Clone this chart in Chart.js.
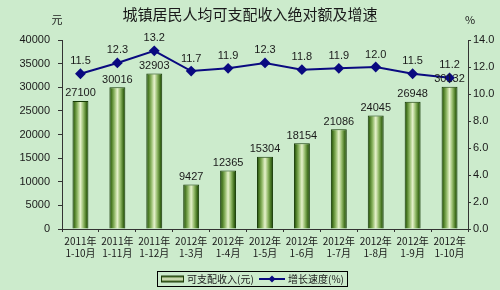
<!DOCTYPE html>
<html>
<head>
<meta charset="utf-8">
<script src="https://cdn.jsdelivr.net/npm/chart.js@4"></script>
<style>
  html, body { margin: 0; padding: 0; background: #ccebcc; }
  #wrap { width: 500px; height: 290px; }
</style>
</head>
<body>
<div id="wrap"><canvas id="incomeChart" width="500" height="290"></canvas></div>
<script>
// data
const categories = [
    ['2011年', '1-10月'], ['2011年', '1-11月'], ['2011年', '1-12月'],
    ['2012年', '1-3月'], ['2012年', '1-4月'], ['2012年', '1-5月'],
    ['2012年', '1-6月'], ['2012年', '1-7月'], ['2012年', '1-8月'],
    ['2012年', '1-9月'], ['2012年', '1-10月']
];
const income = [27100, 30016, 32903, 9427, 12365, 15304, 18154, 21086, 24045, 26948, 30132];
const growth = [11.5, 12.3, 13.2, 11.7, 11.9, 12.3, 11.8, 11.9, 12.0, 11.5, 11.2];
const incomeAxis = { min: 0, max: 40000, step: 5000 };
const growthAxis = { min: 0, max: 14, step: 2 };
const seriesNames = ['可支配收入(元)', '增长速度(%)'];

const BG = '#ccebcc';
const LINE = '#0a0a80';
const FONT = '"Noto Sans CJK SC", "DejaVu Sans", sans-serif';
const LABEL_FONT = 'Arial, "Liberation Sans", sans-serif';

function barGradient(ctx, x0, x1) {
    const g = ctx.createLinearGradient(x0, 0, x1, 0);
    g.addColorStop(0, '#143805');
    g.addColorStop(0.12, '#45751f');
    g.addColorStop(0.3, '#8cb562');
    g.addColorStop(0.5, '#e6f2cc');
    g.addColorStop(0.7, '#8cb562');
    g.addColorStop(0.88, '#3d6c1a');
    g.addColorStop(1, '#143805');
    return g;
}

// value labels, axis units, legend box
const decorPlugin = {
    id: 'decor',
    beforeDraw(chart) {
        const c = chart.ctx;
        c.save();
        c.fillStyle = BG;
        c.fillRect(0, 0, chart.width, chart.height);
        c.restore();
    },
    afterDatasetsDraw(chart) {
        const c = chart.ctx;
        c.save();
        c.font = '11px ' + LABEL_FONT;
        c.fillStyle = '#1a1a1a';
        c.textAlign = 'center';
        c.textBaseline = 'bottom';
        chart.getDatasetMeta(1).data.forEach((el, i) => {
            c.fillText(String(income[i]), el.x, el.y - 2);
        });
        chart.getDatasetMeta(0).data.forEach((el, i) => {
            c.fillText(growth[i].toFixed(1), el.x, el.y - 7);
        });
        c.restore();
    },
    afterDraw(chart) {
        const c = chart.ctx;
        c.save();
        c.font = '11px ' + FONT;
        c.fillStyle = '#1a1a1a';
        c.textAlign = 'center';
        c.textBaseline = 'middle';
        c.fillText('元', chart.scales.y.right - 5, 20);
        c.fillText('%', chart.scales.y1.left + 2, 20);

        // legend
        const lx = 157, ly = 271, lw = 190, lh = 15;
        c.strokeStyle = '#000';
        c.lineWidth = 1;
        c.strokeRect(lx + 0.5, ly + 0.5, lw, lh);
        const sy = ly + lh / 2 + 0.5;
        const vg = c.createLinearGradient(0, sy - 3, 0, sy + 3);
        vg.addColorStop(0, '#2f5a12');
        vg.addColorStop(0.5, '#e6f2cc');
        vg.addColorStop(1, '#2f5a12');
        c.fillStyle = vg;
        c.fillRect(lx + 4, sy - 3, 22, 6);
        c.strokeStyle = '#1f3d0a';
        c.strokeRect(lx + 4.5, sy - 3, 22, 6);
        c.fillStyle = '#1a1a1a';
        c.textAlign = 'left';
        c.font = '10px ' + FONT;
        c.fillText(seriesNames[0], lx + 30, sy);
        c.strokeStyle = LINE;
        c.lineWidth = 2;
        c.beginPath();
        c.moveTo(lx + 102, sy);
        c.lineTo(lx + 128, sy);
        c.stroke();
        c.fillStyle = LINE;
        c.beginPath();
        c.moveTo(lx + 115, sy - 3.5);
        c.lineTo(lx + 118.5, sy);
        c.lineTo(lx + 115, sy + 3.5);
        c.lineTo(lx + 111.5, sy);
        c.closePath();
        c.fill();
        c.fillStyle = '#1a1a1a';
        c.fillText(seriesNames[1], lx + 131, sy);
        c.restore();
    }
};

const ctx = document.getElementById('incomeChart').getContext('2d');
const incomeChart = new Chart(ctx, {
    type: 'bar',
    data: {
        labels: categories,
        datasets: [{
            type: 'line',
            label: seriesNames[1],
            data: growth,
            yAxisID: 'y1',
            order: 0,
            borderColor: LINE,
            backgroundColor: LINE,
            borderWidth: 2,
            pointStyle: 'rectRot',
            pointRadius: 4,
            pointBackgroundColor: LINE,
            pointBorderColor: LINE,
            tension: 0
        }, {
            type: 'bar',
            label: seriesNames[0],
            data: income,
            yAxisID: 'y',
            order: 1,
            categoryPercentage: 0.9,
            barPercentage: 0.48,
            borderColor: '#163a06',
            borderWidth: 1,
            borderSkipped: 'bottom',
            backgroundColor: (c) => {
                const xs = c.chart.scales.x;
                if (!xs || c.dataIndex === undefined) return '#7aa84c';
                const cx = xs.getPixelForValue(c.dataIndex);
                const w = xs.width / categories.length * 0.9 * 0.48;
                if (!isFinite(cx) || !isFinite(w) || w <= 0) return '#7aa84c';
                return barGradient(c.chart.ctx, cx - w / 2, cx + w / 2);
            }
        }]
    },
    options: {
        responsive: false,
        animation: false,
        devicePixelRatio: 1,
        layout: { padding: { left: 0, right: 0, top: 0, bottom: 25 } },
        scales: {
            x: {
                afterFit: (s) => { s.height = 36; },
                grid: { display: true, drawOnChartArea: false, offset: true, color: '#333', tickLength: 3 },
                border: { color: '#333', width: 1 },
                ticks: {
                    color: '#1a1a1a',
                    font: { family: FONT, size: 10 },
                    padding: 3,
                    maxRotation: 0,
                    autoSkip: false
                }
            },
            y: {
                position: 'left',
                min: incomeAxis.min,
                max: incomeAxis.max,
                afterFit: (s) => { s.width = 62; },
                grid: { display: true, drawOnChartArea: false, color: '#333', tickLength: 4 },
                border: { color: '#333', width: 1 },
                ticks: {
                    stepSize: incomeAxis.step,
                    color: '#1a1a1a',
                    font: { family: LABEL_FONT, size: 11 },
                    padding: 8,
                    callback: (v) => String(v)
                }
            },
            y1: {
                position: 'right',
                min: growthAxis.min,
                max: growthAxis.max,
                afterFit: (s) => { s.width = 32; },
                grid: { display: true, drawOnChartArea: false, color: '#333', tickLength: 3 },
                border: { color: '#333', width: 1 },
                ticks: {
                    stepSize: growthAxis.step,
                    color: '#1a1a1a',
                    font: { family: LABEL_FONT, size: 11 },
                    padding: 2,
                    callback: (v) => Number(v).toFixed(1)
                }
            }
        },
        plugins: {
            legend: { display: false },
            tooltip: { enabled: false },
            title: {
                display: true,
                text: '城镇居民人均可支配收入绝对额及增速',
                color: '#1a1a1a',
                font: { family: FONT, size: 15, weight: 'normal' },
                padding: { top: 5, bottom: 17 }
            }
        }
    },
    plugins: [decorPlugin]
});
// second pass so the bar gradients see the laid-out x scale
incomeChart.update();
</script>
</body>
</html>
